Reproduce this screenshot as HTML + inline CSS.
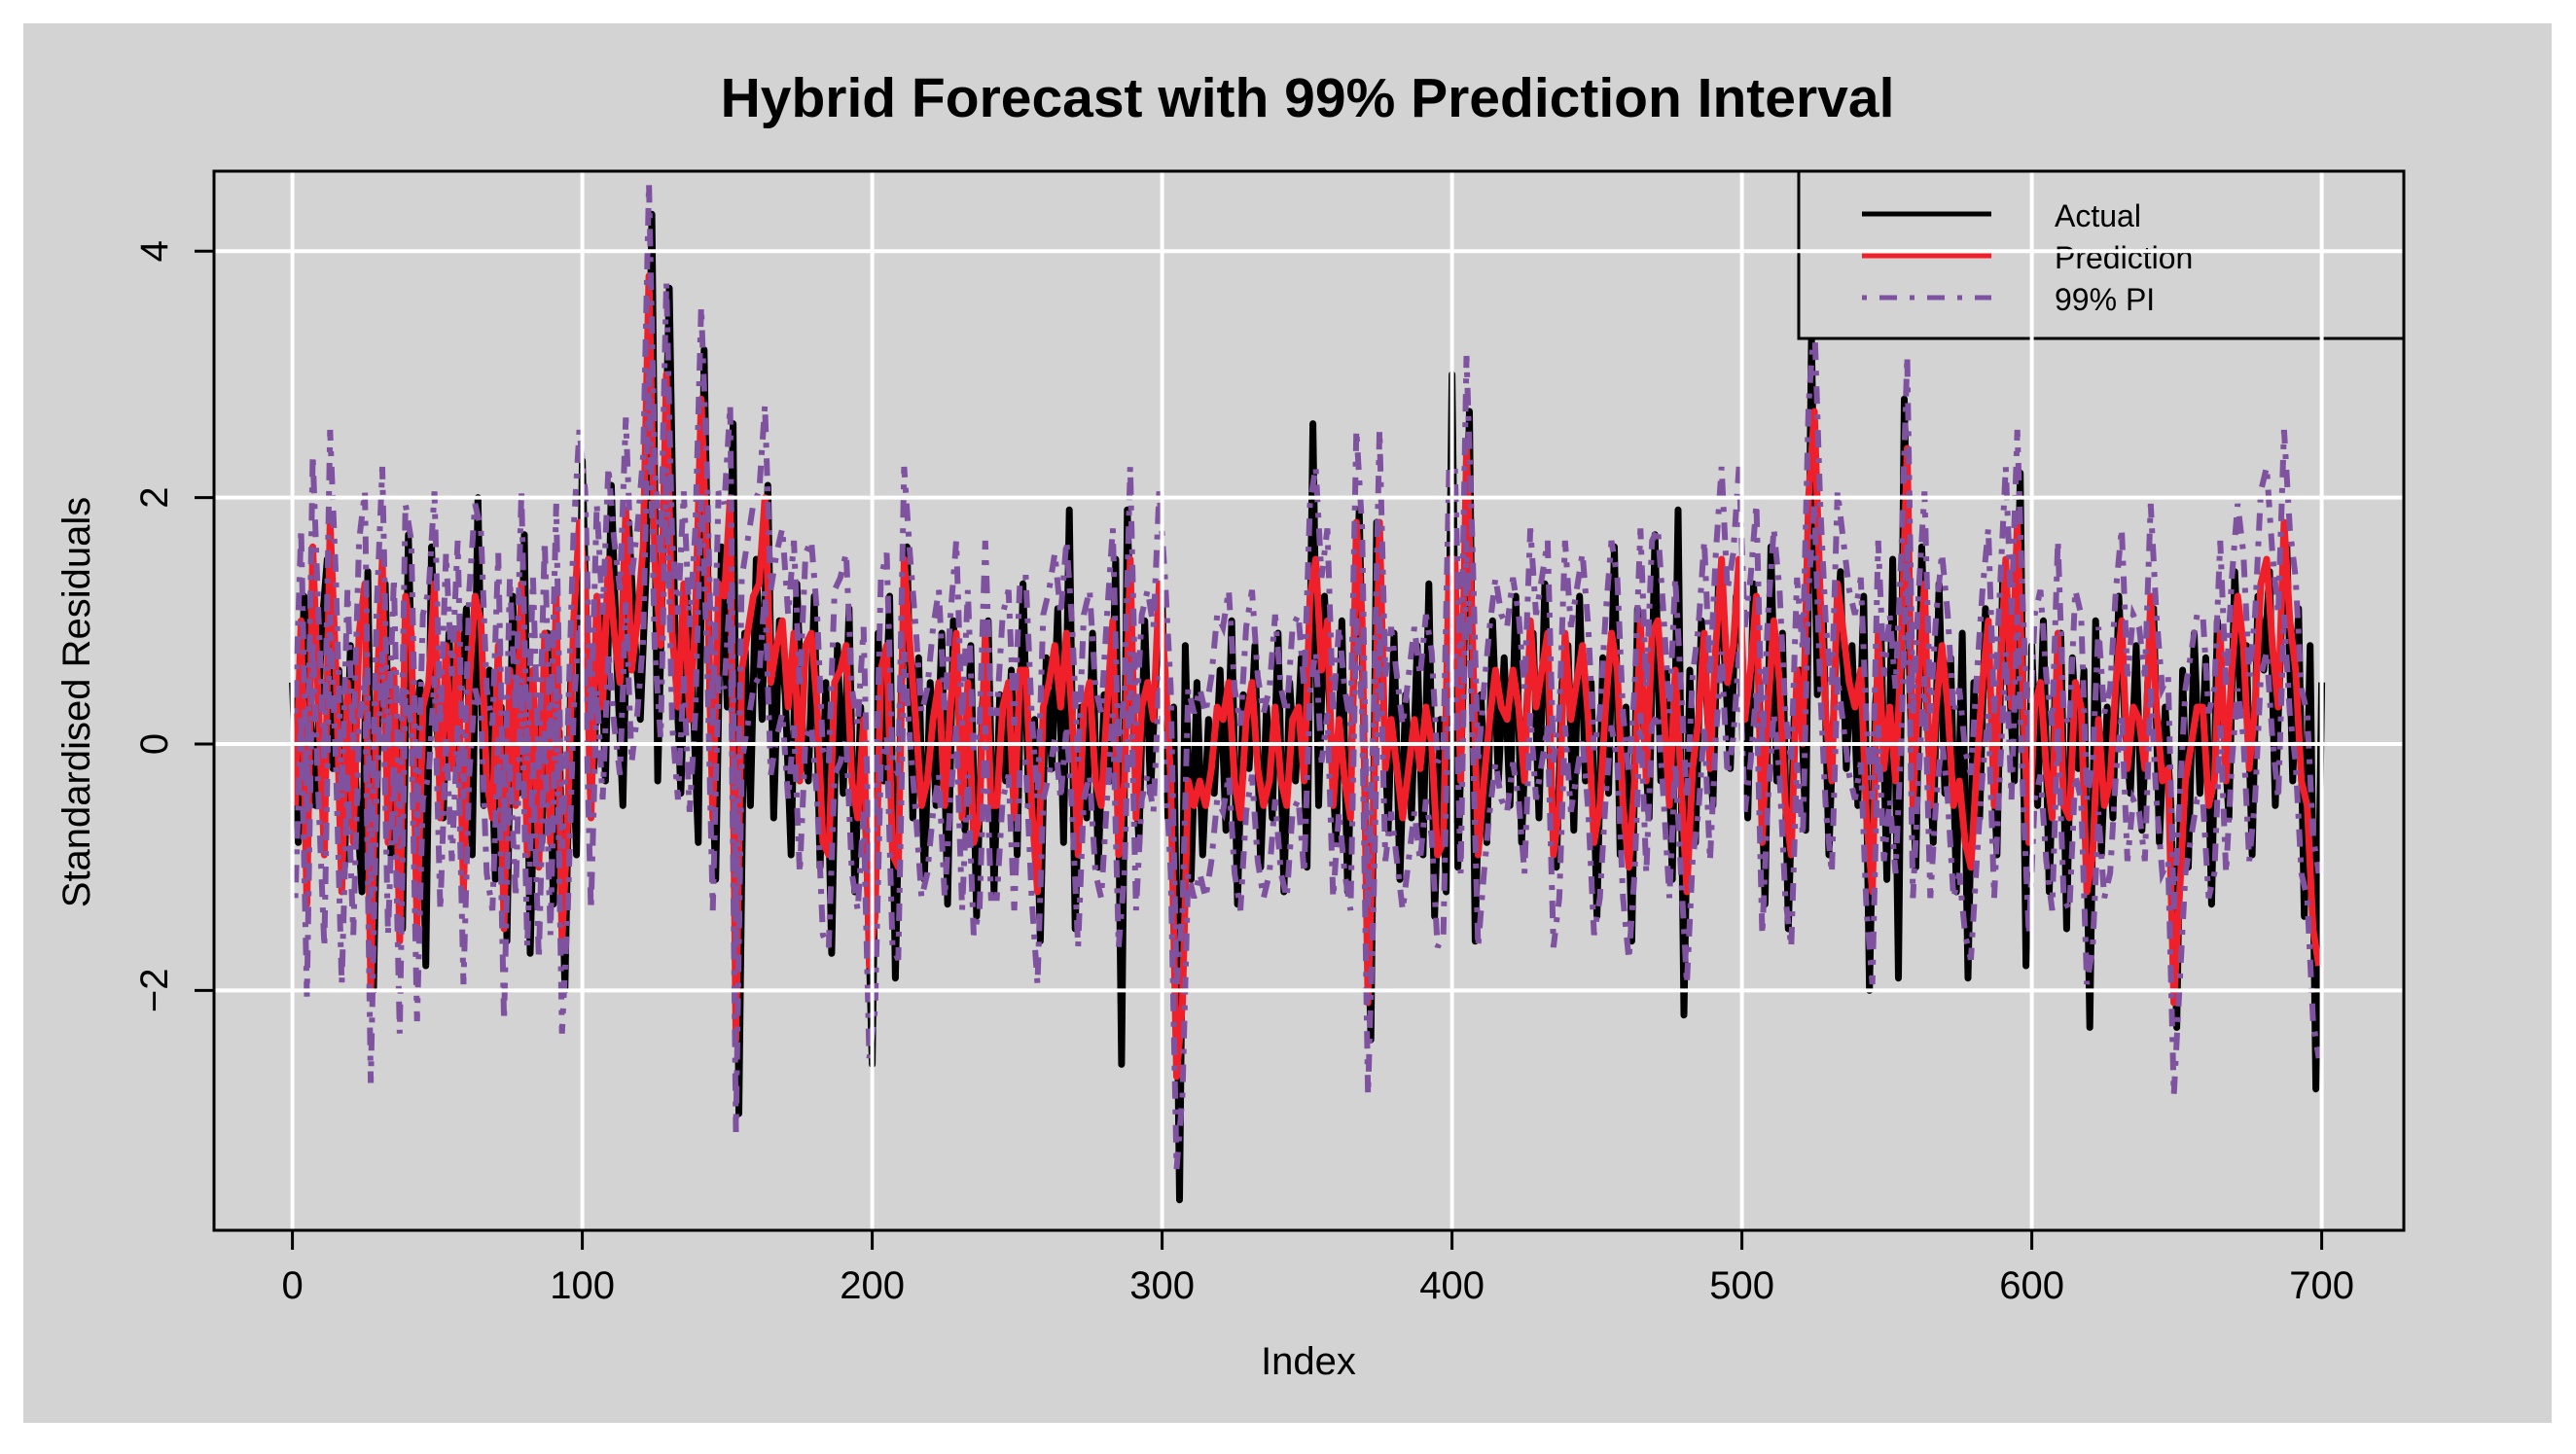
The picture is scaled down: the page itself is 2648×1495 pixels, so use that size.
<!DOCTYPE html>
<html><head><meta charset="utf-8"><style>
html,body{margin:0;padding:0;background:#fff;}
svg{display:block;font-family:"Liberation Sans",Arial,sans-serif;}
</style></head><body>
<svg id="chart" width="2648" height="1495" viewBox="0 0 2648 1495" xmlns="http://www.w3.org/2000/svg">
<rect x="24" y="24" width="2599" height="1439" fill="#d3d3d3"/>
<text x="1344" y="120" text-anchor="middle" font-size="57" font-weight="bold" fill="#000">Hybrid Forecast with 99% Prediction Interval</text>
<text x="1345" y="1413" text-anchor="middle" font-size="40" fill="#000">Index</text>
<text transform="translate(92,722) rotate(-90)" text-anchor="middle" font-size="40" fill="#000">Standardised Residuals</text>
<defs><clipPath id="clip"><rect x="220" y="176" width="2251" height="1089"/></clipPath></defs>
<g id="series" clip-path="url(#clip)"></g>
<g id="axes"></g>
<g id="legend">
<rect x="1849" y="176" width="622" height="172" fill="#d3d3d3" stroke="#000" stroke-width="3"/>
<line x1="1914" y1="220" x2="2047" y2="220" stroke="#000" stroke-width="5"/>
<line x1="1914" y1="263" x2="2047" y2="263" stroke="#f0202a" stroke-width="5"/>
<line x1="1914" y1="306" x2="2047" y2="306" stroke="#7f52a0" stroke-width="5" stroke-dasharray="5 13 18 13"/>
<text x="2112" y="233" font-size="32">Actual</text>
<text x="2112" y="276" font-size="32">Prediction</text>
<text x="2112" y="319" font-size="32">99% PI</text>
</g>
<g id="grid"></g>
<rect x="220" y="176" width="2251" height="1089" fill="none" stroke="#000" stroke-width="3"/>
</svg>
<script>
const actualValues=[0.5,-0.8,1.2,0.3,-0.5,0.9,1.5,-0.2,0.6,-1.0,
0.8,-0.4,-1.2,1.4,-2.0,0.7,1.3,-0.9,0.2,-1.5,
1.7,-0.3,0.5,-1.8,1.6,0.1,-0.6,0.9,-0.2,0.4,
1.1,-0.9,2.0,-0.5,0.6,-1.1,0.3,-1.6,1.2,-0.4,
1.7,-1.7,0.2,-0.8,0.9,-1.3,0.1,-2.0,0.5,-0.9,
2.3,0.4,-0.2,1.1,-0.3,2.1,0.6,-0.5,1.8,0.9,
0.2,1.4,4.3,-0.3,1.7,3.7,0.8,-0.4,1.2,0.5,
-0.8,3.2,0.4,-1.1,1.6,0.3,2.6,-3.0,0.9,-0.5,
1.5,0.2,2.1,-0.6,1.0,0.4,-0.9,1.3,0.1,-0.3,
1.2,-1.0,0.5,-1.7,0.8,-0.4,1.1,-1.2,0.3,-0.8,
-2.6,0.9,-0.3,1.2,-1.9,0.4,1.6,-0.6,0.7,-1.1,
0.5,-0.5,0.9,-1.3,1.0,0.2,-0.7,0.8,-1.4,0.3,
1.0,-1.2,0.4,-0.3,0.6,-0.9,1.3,-0.5,0.2,-1.6,
0.7,-0.2,1.1,-0.8,1.9,-1.5,0.3,-0.6,0.9,-1.0,
0.4,-0.3,1.5,-2.6,1.9,0.2,-0.8,1.0,-0.4,0.6,
1.2,-0.6,0.3,-3.7,0.8,-1.1,0.5,-0.9,0.2,-0.4,
0.6,-0.7,1.0,-1.3,0.4,-0.2,0.8,-1.0,0.3,-0.6,
0.9,-1.2,0.5,-0.3,0.7,-1.0,2.6,-0.5,1.2,0.2,
-0.8,1.0,-1.2,0.5,1.9,-0.4,-2.4,1.8,0.6,-0.7,
0.9,-1.1,0.4,-0.6,0.8,-0.9,1.3,-1.4,0.2,-1.2,
3.0,-1.0,0.6,2.7,-1.6,0.4,-0.8,1.0,-0.3,0.7,
-0.5,1.2,-0.8,0.4,0.9,-0.6,1.3,-0.2,-1.0,0.5,
0.8,-0.7,1.2,-0.3,0.5,-1.4,0.7,-0.4,1.6,-0.9,
0.3,-1.6,1.1,0.2,-0.6,1.7,-0.3,0.6,-1.1,1.9,
-2.2,0.6,-0.8,1.0,0.3,-0.5,1.4,0.7,-0.2,1.2,
0.8,-0.6,1.3,0.4,-1.3,1.6,-0.3,0.9,-1.5,0.2,
0.6,-0.7,3.3,0.4,1.1,-0.9,0.5,1.4,-0.2,0.8,
-0.5,1.2,-2.0,0.3,0.9,-1.1,1.5,-1.9,2.8,0.4,
-1.0,1.6,0.2,-0.8,1.3,-0.4,0.7,-1.2,0.9,-1.9,
0.5,-0.6,1.1,0.3,-0.9,1.4,0.6,-0.3,2.2,-1.8,
0.8,-0.5,1.0,-1.2,0.4,0.9,-1.5,0.7,-0.2,0.6,
-2.3,1.0,-0.9,0.3,-0.6,1.2,0.2,-0.4,0.8,-0.7,
0.5,1.1,-0.8,0.3,-0.5,-2.3,0.6,-1.0,0.9,-0.4,
0.7,-1.3,1.0,0.2,-0.6,1.4,0.3,0.8,-0.9,1.2,
0.6,1.4,-0.5,0.9,1.6,-0.3,1.1,-1.4,0.8,-2.8,
0.5];
const predictionValues=[-0.5,1.0,-1.3,1.6,0.3,-0.9,1.8,0.6,-1.2,0.5,
-0.8,0.9,1.3,-2.0,0.3,1.5,-0.8,0.6,-1.6,1.2,
0.9,-1.5,0.3,0.5,1.3,-0.6,0.8,-0.2,0.9,-1.2,
0.5,1.2,1.0,-0.3,-0.6,0.8,-1.5,0.6,-0.5,1.3,
-0.9,0.6,-1.0,0.9,-0.8,1.2,-1.6,-0.6,1.0,1.8,
1.3,-0.6,1.2,0.3,1.5,0.9,0.5,1.9,0.6,1.0,
1.6,3.8,1.5,0.8,3.0,0.9,0.3,1.3,0.2,1.0,
2.8,1.5,-0.6,1.3,1.2,2.0,-2.4,0.6,0.9,1.2,
1.3,2.0,0.5,0.8,1.0,0.3,0.9,-0.3,0.8,0.9,
0.3,-0.8,-0.9,0.5,0.6,0.8,-0.3,-0.6,0.2,-1.8,
-1.4,0.6,0.8,-0.9,-1.0,1.5,0.8,0.2,-0.5,-0.3,
0.2,0.5,-0.5,0.3,0.9,-0.6,0.5,-0.8,-0.6,0.9,
-0.5,-0.5,0.3,0.5,-0.6,0.6,0.6,-0.5,-1.2,0.3,
0.5,0.8,0.3,0.9,0.2,-0.9,0.3,0.5,-0.3,-0.5,
0.3,1.0,-0.9,-0.3,1.5,-0.6,0.3,0.5,0.2,1.3,
0.6,-0.3,-2.7,-2.1,-0.3,-0.5,-0.3,-0.5,-0.2,0.3,
0.2,0.5,-0.3,-0.6,0.2,0.5,-0.2,-0.5,-0.3,0.3,
-0.3,-0.5,0.2,0.3,-0.3,1.2,1.5,0.6,1.0,-0.5,
0.2,-0.3,-0.6,1.8,1.0,-2.1,-0.5,1.8,-0.2,0.2,
-0.2,-0.6,-0.2,0.2,-0.2,0.3,0.0,-0.9,-0.8,1.5,
1.5,-0.3,2.4,0.9,-0.9,-0.3,0.2,0.6,0.3,0.2,
0.6,0.3,-0.3,1.0,0.3,0.6,0.9,-0.9,-0.5,0.9,
0.2,0.5,0.8,0.2,-0.8,-0.5,0.3,0.9,0.6,-0.5,
-1.0,-0.3,1.0,-0.3,0.9,1.0,0.3,-0.5,0.6,-0.3,
-1.2,-0.2,0.2,0.9,-0.2,0.8,1.5,0.5,0.8,1.5,
0.2,0.6,1.2,-0.8,0.3,1.0,0.5,-0.5,-0.9,0.6,
0.0,2.0,2.7,1.2,0.2,-0.3,1.3,0.9,0.5,0.3,
0.6,-0.6,-1.2,0.9,-0.2,0.3,-0.3,0.8,2.4,-0.5,
0.5,1.3,-0.5,0.3,0.8,0.3,-0.5,-0.3,-0.8,-1.0,
-0.2,0.5,1.0,-0.5,0.5,1.5,0.3,1.8,0.3,-0.8,
0.3,0.5,-0.2,-0.6,0.9,-0.5,-0.6,0.5,0.3,-1.2,
-0.9,0.2,-0.5,-0.3,0.5,1.0,-0.2,0.3,0.2,-0.2,
1.2,0.3,-0.3,-0.2,-2.1,-1.2,-0.3,0.0,0.3,0.3,
-0.5,-0.3,0.9,-0.3,0.6,1.2,0.8,-0.2,0.3,1.3,
1.5,0.8,0.3,1.8,1.0,0.6,-0.3,-0.5,-1.5,-1.8];
const piHalfWidth=0.75;
const xTicks=[0,100,200,300,400,500,600,700];
const yTicks=[-2,0,2,4];
const actualIndex=actualValues.map((v,i)=>i*2);
const predictionIndex=predictionValues.map((v,i)=>i*2+1);

const NS='http://www.w3.org/2000/svg';
const PL=220,PR=2471,PT=176,PB=1265;
const X0=300.6,XU=2.98;
const Y0=765,YU=75*1.689;
function xs(v){return X0+v*XU;}
function ys(v){return Y0-v*YU;}
function mk(tag,attrs,parent){const e=document.createElementNS(NS,tag);for(const k in attrs)e.setAttribute(k,attrs[k]);parent.appendChild(e);return e;}
function pts(ix,vals,off){return vals.map((v,i)=>xs(ix[i]).toFixed(1)+','+ys(v+off).toFixed(1)).join(' ');}
const S=document.getElementById('series');
let p;
p=mk('polyline',{points:pts(actualIndex,actualValues,0),fill:'none',stroke:'#000','stroke-width':7,'stroke-linejoin':'round'},S);


p=mk('polyline',{points:pts(predictionIndex,predictionValues,0),fill:'none',stroke:'#f0202a','stroke-width':7,'stroke-linejoin':'round'},S);


p=mk('polyline',{points:pts(predictionIndex,predictionValues,piHalfWidth),fill:'none',stroke:'#7f52a0','stroke-width':6,'stroke-dasharray':'5 11 18 11'},S);


p=mk('polyline',{points:pts(predictionIndex,predictionValues,-piHalfWidth),fill:'none',stroke:'#7f52a0','stroke-width':6,'stroke-dasharray':'5 11 18 11'},S);



const G=document.getElementById('grid'),A=document.getElementById('axes');
xTicks.forEach(t=>{
 let l=mk('line',{x1:xs(t),x2:xs(t),y1:PT,y2:PB,stroke:'#fff','stroke-width':4},G);
 
 
 let tk=mk('line',{x1:xs(t),x2:xs(t),y1:PB,y2:PB+20,stroke:'#000','stroke-width':3},A);
 
 
 let tx=mk('text',{x:xs(t),y:1335,'text-anchor':'middle','font-size':40},A);
 tx.textContent=t;
 
 
});
yTicks.forEach(t=>{
 let l=mk('line',{x1:PL,x2:PR,y1:ys(t),y2:ys(t),stroke:'#fff','stroke-width':4},G);
 
 
 let tk=mk('line',{x1:PL-20,x2:PL,y1:ys(t),y2:ys(t),stroke:'#000','stroke-width':3},A);
 
 
 let tx=mk('text',{transform:'translate(172,'+ys(t)+') rotate(-90)','text-anchor':'middle','font-size':40},A);
 tx.textContent=t<0?'\u2212'+(-t):t;
 
 
});
</script>
</body></html>
